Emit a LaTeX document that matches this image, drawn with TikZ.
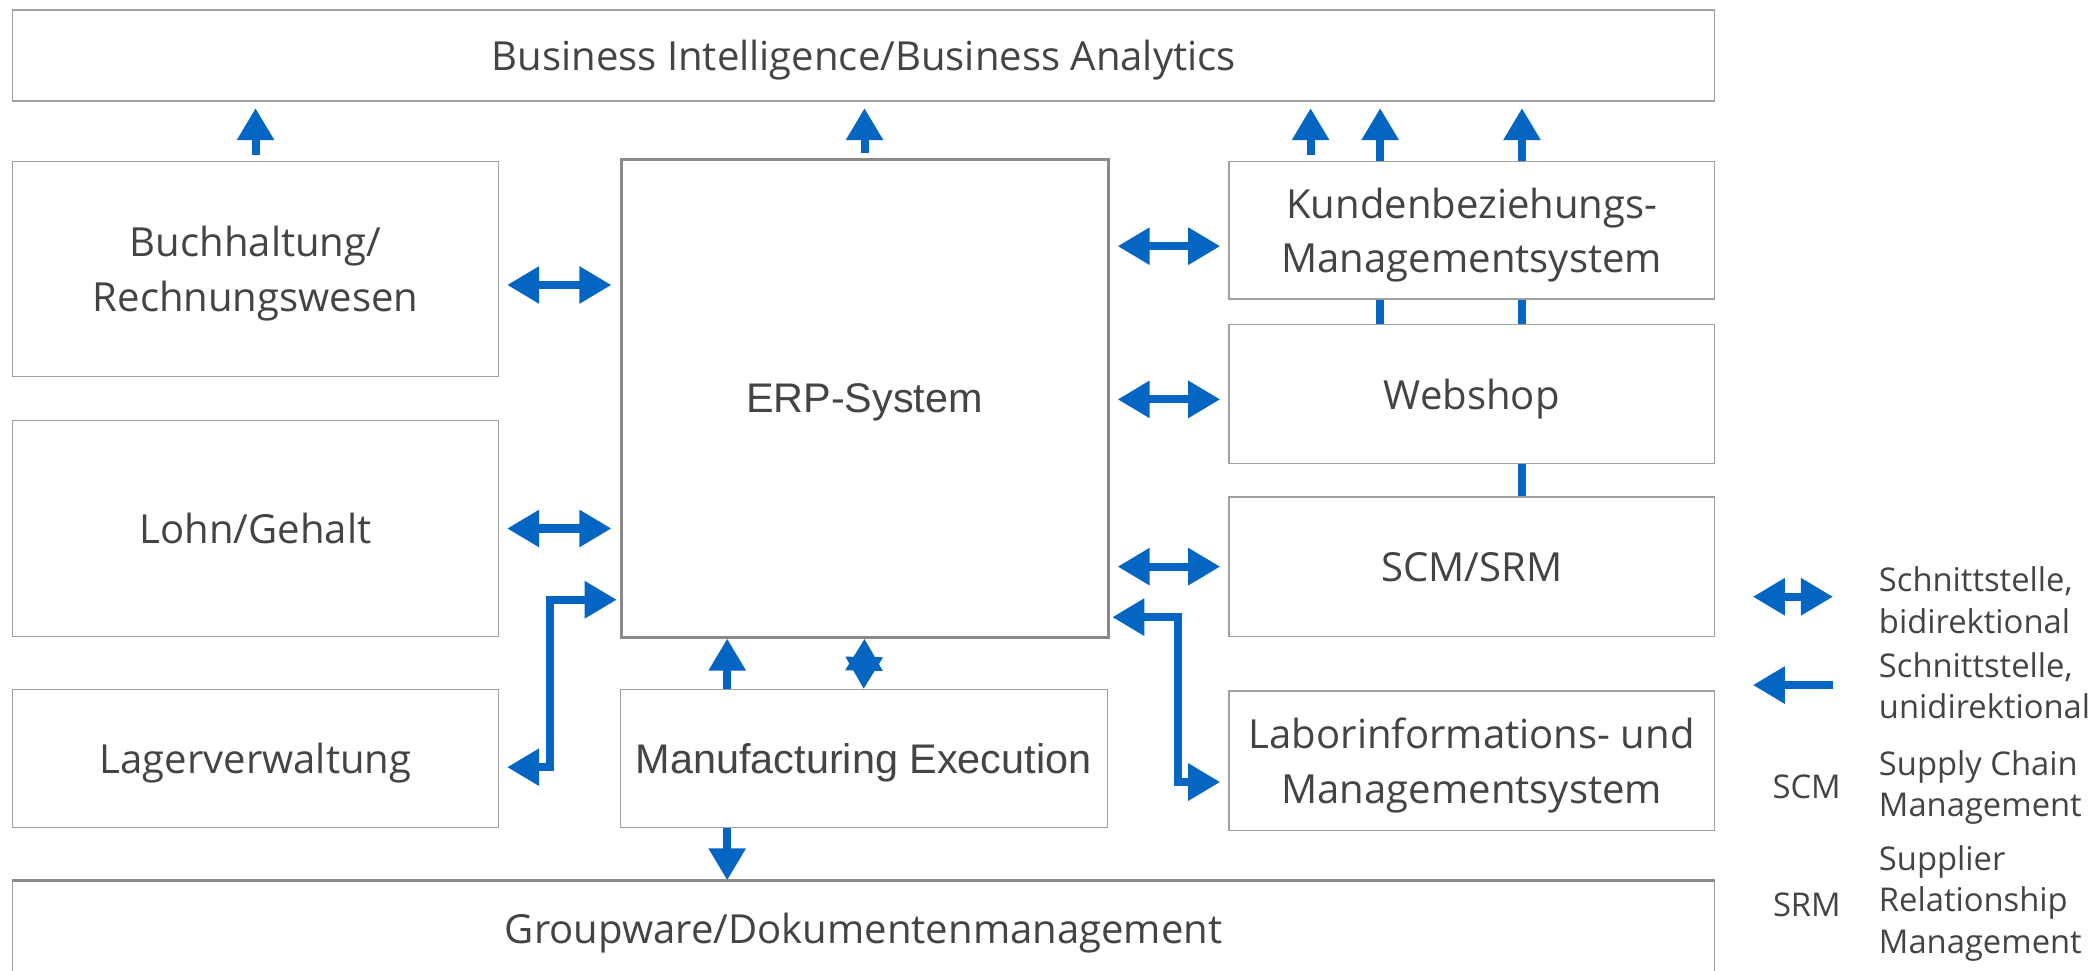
\documentclass[tikz,border=0pt]{standalone}
\usepackage{fontspec}
\setmainfont{Open Sans}
\newfontfamily\helvschrift{Liberation Sans}
\usetikzlibrary{arrows.meta, backgrounds}

\definecolor{pfeilblau}{HTML}{0565C2}
\definecolor{rahmengrau}{HTML}{A0A0A0}
\definecolor{erpgrau}{HTML}{8A8A8A}
\definecolor{textgrau}{HTML}{444444}

\begin{document}
\begin{tikzpicture}[
    kasten/.style={draw=rahmengrau, line width=0.7pt, fill=white, text=textgrau, align=center,
      inner sep=0pt, text depth=-2pt, anchor=north west, font=\fontsize{21.3}{29}\selectfont},
    helv/.style={font=\helvschrift\fontsize{22}{26}\selectfont},
    pfeil/.style={draw=pfeilblau, line width=0.15cm, -{Triangle[length=0.6cm, width=0.66cm]},
      shorten >=0.12cm},
    bipfeil/.style={pfeil, {Triangle[length=0.6cm, width=0.66cm]}-{Triangle[length=0.6cm, width=0.66cm]},
      shorten <=0.15cm, shorten >=0.15cm},
    legende/.style={text=textgrau, font=\fontsize{17.4}{22}\selectfont, align=left, inner sep=0pt}
  ]
  \useasboundingbox (0,0) rectangle (39.2,18.125);

  % Kaesten
  \node[kasten, minimum width=31.8cm, minimum height=1.7cm] (bi) at (0.225,17.95) {Business Intelligence/Business Analytics};
  \node[kasten, minimum width=9.075cm, minimum height=4.025cm] (buch) at (0.225,15.125) {Buchhaltung/\\Rechnungswesen};
  \node[kasten, minimum width=9.075cm, minimum height=4.025cm] (lohn) at (0.225,10.275) {Lohn/Gehalt};
  \node[kasten, minimum width=9.075cm, minimum height=2.575cm] (lager) at (0.225,5.25) {Lagerverwaltung};
  \node[kasten, helv, draw=erpgrau, line width=1.6pt, minimum width=9.1cm, minimum height=8.925cm] (erp) at (11.575,15.175) {ERP-System};
  \node[kasten, helv, minimum width=9.1cm, minimum height=2.575cm] (mes) at (11.575,5.25) {Manufacturing Execution};
  \node[kasten, minimum width=9.075cm, minimum height=2.575cm] (kunden) at (22.95,15.125) {Kundenbeziehungs-\\Managementsystem};
  \node[kasten, minimum width=9.075cm, minimum height=2.6cm] (web) at (22.95,12.075) {Webshop};
  \node[kasten, minimum width=9.075cm, minimum height=2.6cm] (scm) at (22.95,8.85) {SCM/SRM};
  \node[kasten, minimum width=9.075cm, minimum height=2.6cm] (labor) at (22.95,5.225) {Laborinformations- und\\Managementsystem};
  \node[kasten, minimum width=31.8cm, minimum height=1.75cm] (group) at (0.225,1.675) {Groupware/Dokumentenmanagement};
  \draw[erpgrau, line width=1.6pt] (group.north west) -- (group.north east);

  \begin{scope}[on background layer]
    % nach oben zu BI
    \foreach \quelle/\dx/\kurz in {buch/0/0.1, erp/0/0.1, kunden/-3.0125/0.1, web/-1.7125/0, scm/0.9375/0}
      \draw[pfeil, shorten <=\kurz cm] ([xshift=\dx cm]\quelle.north) -- ([xshift=\dx cm]\quelle.north |- bi.south);

    % Schnittstellen zum ERP
    \foreach \quelle/\dy in {buch/-0.3, lohn/0}
      \draw[bipfeil] ([yshift=\dy cm]\quelle.east) -- ([yshift=\dy cm]\quelle.east -| erp.west);
    \foreach \ziel/\dy in {kunden/-0.3, web/-0.1, scm/0}
      \draw[bipfeil] ([yshift=\dy cm]\ziel.west -| erp.east) -- ([yshift=\dy cm]\ziel.west);

    \draw[bipfeil, shorten >=0.05cm] ([yshift=-0.16cm]lager.east) -- ++(0.95,0) |- ([yshift=0.725cm]erp.south west);
    \draw[bipfeil, shorten <=0.05cm] ([yshift=0.4cm]erp.south east) -- ++(1.275,0) |- ([yshift=-0.4cm]labor.west);

    % Manufacturing Execution
    \draw[pfeil, shorten >=0pt] ([xshift=-2.55cm]mes.north) -- ([xshift=-2.55cm]mes.north |- erp.south);
    \draw[bipfeil, shorten <=0pt, shorten >=0pt] (mes.north) -- (erp.south);
    \draw[pfeil, shorten >=0pt] ([xshift=-2.55cm]mes.south) -- ([xshift=-2.55cm]mes.south |- group.north);
  \end{scope}

  % Legende
  \coordinate (lgbiA) at (32.75,6.975);
  \coordinate (lgbiB) at (34.25,6.975);
  \coordinate (lgeinA) at (32.75,5.325);
  \coordinate (lgeinB) at (34.25,5.325);
  \draw[bipfeil, shorten <=0pt, shorten >=0pt] (lgbiA) -- (lgbiB);
  \draw[pfeil, shorten >=0pt] (lgeinB) -- (lgeinA);
  \node[legende, anchor=west] (lgbi) at (35.1,6.9125) {Schnittstelle,\\bidirektional};
  \node[legende, anchor=west] (lgein) at (35.1,5.3125) {Schnittstelle,\\unidirektional};
  \node[legende, anchor=east] (scmkurz) at (34.4,3.425) {SCM};
  \node[legende, anchor=west] (scmlang) at (35.1,3.4125) {Supply Chain\\Management};
  \node[legende, anchor=east] (srmkurz) at (34.4,1.225) {SRM};
  \node[legende, anchor=west] (srmlang) at (35.1,1.25) {Supplier\\Relationship\\Management};
\end{tikzpicture}
\end{document}
